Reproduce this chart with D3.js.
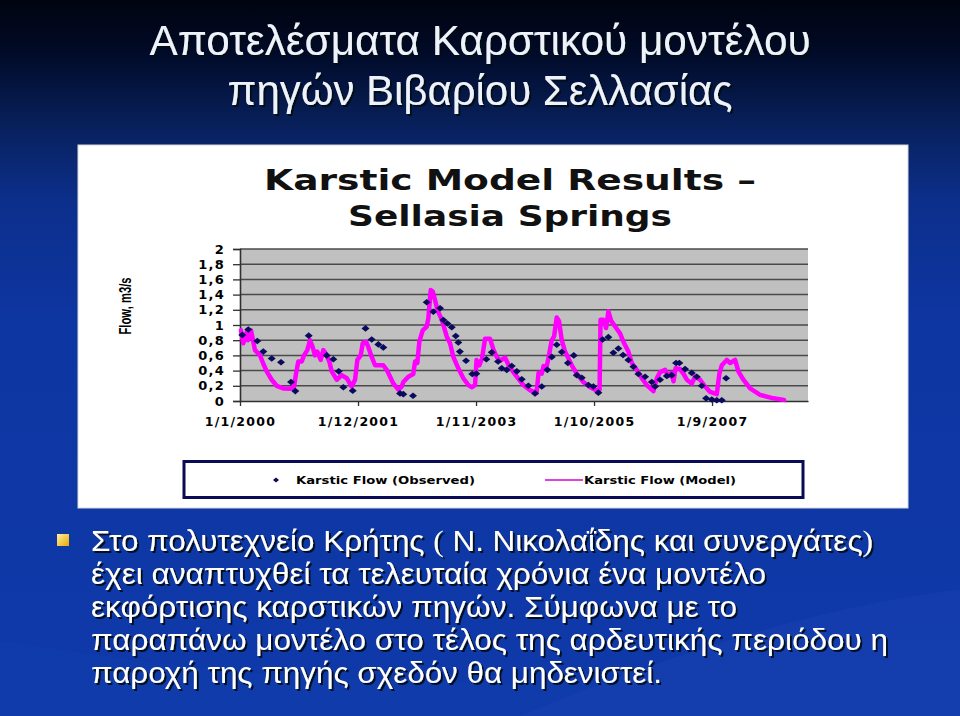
<!DOCTYPE html>
<html><head><meta charset="utf-8">
<script src="https://cdn.jsdelivr.net/npm/d3@7/dist/d3.min.js"></script>
<style>html,body{margin:0;padding:0;background:#0d2f95;overflow:hidden}svg{display:block}</style>
</head><body><svg id="c" width="960" height="716"></svg>
<script>
// ---------- data ----------
const slideTitle = ["Αποτελέσματα Καρστικού μοντέλου", "πηγών Βιβαρίου Σελλασίας"];
const chartTitle = ["Karstic Model Results –", "Sellasia Springs"];
const yTicks = [0, 0.2, 0.4, 0.6, 0.8, 1, 1.2, 1.4, 1.6, 1.8, 2];
const yTickLabels = ["0", "0,2", "0,4", "0,6", "0,8", "1", "1,2", "1,4", "1,6", "1,8", "2"];
// months since 1/1/2000
const xTickMonths = [0, 23, 46, 69, 92];
const xTickLabels = ["1/1/2000", "1/12/2001", "1/11/2003", "1/10/2005", "1/9/2007"];
const seriesNames = ["Karstic Flow (Observed)", "Karstic Flow (Model)"];
const observedMonths = [0.45,1.62,3.37,4.54,6.18,7.99,9.94,10.78,13.39,16.9,18.19,19.24,20.14,21.97,
  24.46,25.67,26.96,27.93,31.19,31.83,33.72,36.39,37.68,38.99,39.63,40.41,41.27,42.05,42.55,42.85,
  44.05,45.26,46.06,48.01,49.06,50.29,51.01,51.99,52.96,53.94,54.91,56.2,57.5,58.81,59.9,60.76,
  61.73,62.71,63.9,65.05,65.63,66.61,67.9,68.87,69.84,70.66,71.79,72.77,73.74,74.66,75.69,76.67,
  77.64,78.95,80.25,80.9,81.87,83.18,84.15,84.99,85.63,86.74,88.05,89.02,90,90.84,91.95,92.92,93.9,94.74];
const observedFlow = [0.87,0.94,0.79,0.65,0.56,0.51,0.25,0.13,0.86,0.60,0.55,0.39,0.18,0.135,
  0.955,0.81,0.745,0.705,0.10,0.09,0.07,1.30,1.175,1.22,1.065,1.02,0.97,0.855,0.77,0.65,
  0.53,0.355,0.36,0.55,0.64,0.52,0.43,0.41,0.46,0.39,0.285,0.20,0.10,0.19,0.41,0.58,
  0.74,0.645,0.50,0.60,0.34,0.305,0.21,0.19,0.11,0.81,0.84,0.635,0.69,0.605,0.54,0.45,
  0.355,0.32,0.25,0.19,0.28,0.33,0.34,0.50,0.50,0.42,0.37,0.32,0.20,0.035,0.02,0.01,0.01,0.30];
const modelMonths = [0.19,0.64,1.31,1.56,2.14,2.92,3.90,4.48,5.20,6.18,7.15,8.44,9.75,10.53,10.92,11.36,
  12.03,12.48,13.12,13.65,14.17,14.62,15.07,15.73,16.24,16.76,17.41,17.88,18.85,19.82,20.80,21.77,
  22.42,22.87,23.53,23.92,24.56,24.95,25.67,26.32,27.93,28.60,29.88,30.86,31.52,31.83,32.81,33.78,
  34.11,34.56,34.95,35.61,36.39,36.71,37.17,37.56,38.01,38.46,39.32,40.29,40.94,41.58,42.55,43.53,
  44.50,45.22,45.81,46.10,46.65,47.17,47.76,48.73,49.38,50.04,50.68,51.66,52.30,52.96,53.94,55.22,
  56.53,57.80,58.19,58.81,59.16,59.65,60.10,60.76,61.21,61.73,62.18,62.71,63.35,64.66,65.63,66.92,
  68.23,69.49,70.08,70.27,70.82,71.35,71.79,72.32,73.10,74.07,74.72,75.69,76.36,77.33,78.30,79.28,
  80.57,81.23,81.87,82.85,83.49,84.02,84.50,84.89,85.77,86.41,87.08,88.05,88.69,89.67,90.64,91.62,
  92.92,93.43,93.90,94.87,95.52,96.49,97.13,98.11,99.42,101.36,103.96,106.04];
const modelFlow = [0.93,0.76,0.91,0.80,0.93,0.67,0.60,0.50,0.39,0.28,0.20,0.165,0.16,0.19,0.36,0.52,
  0.52,0.60,0.67,0.80,0.71,0.60,0.65,0.54,0.67,0.62,0.52,0.39,0.28,0.34,0.30,0.19,
  0.28,0.54,0.60,0.76,0.78,0.72,0.58,0.47,0.47,0.41,0.23,0.15,0.19,0.25,0.32,0.355,
  0.52,0.50,0.78,0.93,0.98,1.09,1.46,1.44,1.33,1.20,1.07,0.85,0.76,0.58,0.43,0.30,
  0.21,0.18,0.21,0.54,0.47,0.56,0.82,0.82,0.68,0.58,0.53,0.57,0.48,0.41,0.32,0.21,
  0.14,0.11,0.37,0.36,0.46,0.42,0.56,0.80,0.85,1.10,1.05,0.80,0.65,0.47,0.36,0.25,
  0.18,0.14,0.15,1.07,1.07,0.96,1.18,1.06,0.98,0.89,0.78,0.65,0.50,0.41,0.30,0.21,
  0.13,0.30,0.38,0.41,0.33,0.37,0.26,0.43,0.42,0.36,0.28,0.23,0.32,0.28,0.19,0.12,
  0.09,0.36,0.47,0.54,0.50,0.54,0.39,0.28,0.165,0.08,0.035,0.015];
const bulletLines = [
  ["Στο πολυτεχνείο Κρήτης ", "(", " Ν. Νικολαΐδης και συνεργάτες", ")"],
  ["έχει αναπτυχθεί τα τελευταία χρόνια ένα μοντέλο"],
  ["εκφόρτισης καρστικών πηγών. Σύμφωνα με το"],
  ["παραπάνω μοντέλο στο τέλος της αρδευτικής περιόδου η"],
  ["παροχή της πηγής σχεδόν θα μηδενιστεί."]
];

// ---------- drawing ----------
const svg = d3.select("#c");
const defs = svg.append("defs");
const bg = defs.append("linearGradient").attr("id","bg").attr("x1",0).attr("y1",0).attr("x2",0).attr("y2",1);
[[0,"#000410"],[0.07,"#010a26"],[0.18,"#08215e"],[0.28,"#0c2f8c"],[0.45,"#0e36a2"],[1,"#0f39aa"]]
  .forEach(([o,c])=>bg.append("stop").attr("offset",o).attr("stop-color",c));
const yel = defs.append("linearGradient").attr("id","yel").attr("x1",0).attr("y1",0).attr("x2",1).attr("y2",1);
yel.append("stop").attr("offset",0).attr("stop-color","#fff0a0");
yel.append("stop").attr("offset",1).attr("stop-color","#e8a800");
const sh = defs.append("filter").attr("id","sh").attr("x","-5%").attr("y","-30%").attr("width","110%").attr("height","160%");
sh.append("feDropShadow").attr("dx",2).attr("dy",2).attr("stdDeviation",0.6).attr("flood-color","#000818").attr("flood-opacity",0.95);

svg.append("rect").attr("width",960).attr("height",716).attr("fill","url(#bg)");
// subtle swoosh
svg.append("path").attr("d","M520,716 C700,640 860,600 960,590 L960,716 Z").attr("fill","#2a52c0").attr("opacity",0.18);
svg.append("path").attr("d","M0,640 C300,690 600,700 960,650 L960,716 L0,716 Z").attr("fill","#1c46b8").attr("opacity",0.12);

// slide title
const titleW = [661, 505], titleY = [55, 105];
slideTitle.forEach((t,i)=>{
  svg.append("text").attr("x",480).attr("y",titleY[i]).attr("text-anchor","middle")
    .attr("font-family","'Liberation Sans Narrow','Liberation Sans',Arial,sans-serif").attr("font-size",43)
    .attr("textLength",titleW[i]).attr("lengthAdjust","spacingAndGlyphs")
    .attr("fill","#eef2fa").attr("filter","url(#sh)").text(t);
});

// chart panel
svg.append("rect").attr("x",78).attr("y",145).attr("width",830).attr("height",363).attr("fill","#ffffff")
  .attr("stroke","#d8d8d8").attr("stroke-width",1);

const ctW = [492, 324], ctY = [190, 226];
chartTitle.forEach((t,i)=>{
  svg.append("text").attr("x",510).attr("y",ctY[i]).attr("text-anchor","middle")
    .attr("font-family","'Comic Sans MS','DejaVu Sans',sans-serif").attr("font-weight","bold").attr("font-size",28)
    .attr("textLength",ctW[i]).attr("lengthAdjust","spacingAndGlyphs").attr("fill","#111").text(t);
});

const x = d3.scaleLinear().domain([0,110.7]).range([240,808]);
const y = d3.scaleLinear().domain([0,2]).range([401,249]);

svg.append("rect").attr("x",x(0)).attr("y",y(2)).attr("width",x(110.7)-x(0)).attr("height",y(0)-y(2)).attr("fill","#c0c0c0");

// gridlines
svg.append("g").selectAll("line").data(yTicks.filter(d=>d>0)).join("line")
  .attr("x1",x(0)).attr("x2",x(110.7)).attr("y1",d=>y(d)).attr("y2",d=>y(d))
  .attr("stroke","#4a4a4a").attr("stroke-width",1.5);

// y axis
const yAxis = d3.axisLeft(y).tickValues(yTicks).tickFormat((d,i)=>yTickLabels[i]).tickSize(7).tickPadding(8);
const gy = svg.append("g").attr("transform",`translate(${x(0)},0)`).call(yAxis);
gy.select(".domain").attr("stroke","#303030").attr("stroke-width",1.6);
gy.selectAll(".tick line").attr("stroke","#303030").attr("stroke-width",1.3);
gy.selectAll(".tick text").attr("font-family","'DejaVu Sans',Verdana,sans-serif").attr("font-weight","bold")
  .attr("font-size",13).attr("letter-spacing",1.2).attr("fill","#000");

// x axis
const xAxis = d3.axisBottom(x).tickValues(xTickMonths).tickFormat((d,i)=>xTickLabels[i]).tickSize(5).tickPadding(11).tickSizeOuter(0);
const gx = svg.append("g").attr("transform",`translate(0,${y(0)})`).call(xAxis);
gx.select(".domain").attr("stroke","#303030").attr("stroke-width",1.6);
gx.selectAll(".tick line").attr("stroke","#303030").attr("stroke-width",1.3);
gx.selectAll(".tick text").attr("font-family","'DejaVu Sans',Verdana,sans-serif").attr("font-weight","bold")
  .attr("font-size",12.5).attr("letter-spacing",1.3).attr("fill","#000");

// y label
svg.append("text").attr("transform","translate(131,306) rotate(-90)").attr("text-anchor","middle")
  .attr("font-family","'Liberation Sans',Arial,sans-serif").attr("font-weight","bold").attr("font-size",17)
  .attr("textLength",57).attr("lengthAdjust","spacingAndGlyphs").attr("fill","#000").text("Flow, m3/s");

// model line
const modelData = modelMonths.map((m,i)=>[m, modelFlow[i]]);
svg.append("path").datum(modelData)
  .attr("d", d3.line().x(d=>x(d[0])).y(d=>y(d[1])))
  .attr("fill","none").attr("stroke","#ff00ff").attr("stroke-width",4.5).attr("stroke-linejoin","round").attr("stroke-linecap","round");

// observed markers
const diamond = {draw(ctx){ctx.moveTo(0,-3.3);ctx.lineTo(4,0);ctx.lineTo(0,3.3);ctx.lineTo(-4,0);ctx.closePath();}};
const obsData = observedMonths.map((m,i)=>[m, observedFlow[i]]);
svg.append("g").selectAll("path").data(obsData).join("path")
  .attr("transform",d=>`translate(${x(d[0])},${y(d[1])})`)
  .attr("d", d3.symbol().type(diamond)).attr("fill","#0b0b5e");

// legend
svg.append("rect").attr("x",184).attr("y",461.5).attr("width",619).attr("height",36)
  .attr("fill","#fff").attr("stroke","#0b0b55").attr("stroke-width",3);
svg.append("path").attr("transform","translate(276,480)").attr("d", d3.symbol().type({draw(ctx){ctx.moveTo(0,-2.5);ctx.lineTo(3,0);ctx.lineTo(0,2.5);ctx.lineTo(-3,0);ctx.closePath();}})).attr("fill","#0b0b5e");
svg.append("text").attr("x",296).attr("y",484).attr("font-family","'Comic Sans MS','DejaVu Sans',sans-serif")
  .attr("font-weight","bold").attr("font-size",11).attr("textLength",179).attr("lengthAdjust","spacingAndGlyphs").text(seriesNames[0]);
svg.append("line").attr("x1",545).attr("x2",583).attr("y1",480).attr("y2",480).attr("stroke","#e040e0").attr("stroke-width",1.8);
svg.append("text").attr("x",584).attr("y",484).attr("font-family","'Comic Sans MS','DejaVu Sans',sans-serif")
  .attr("font-weight","bold").attr("font-size",11).attr("textLength",152).attr("lengthAdjust","spacingAndGlyphs").text(seriesNames[1]);

// bullet
svg.append("rect").attr("x",57).attr("y",534).attr("width",12).attr("height",12).attr("fill","url(#yel)");
const lineW = [782, 675, 646, 797, 571];
bulletLines.forEach((parts,i)=>{
  const t = svg.append("text").attr("x",91).attr("y",551+i*33)
    .attr("font-family","'Liberation Sans Narrow','Liberation Sans',Arial,sans-serif").attr("font-size",30)
    .attr("textLength",lineW[i]).attr("lengthAdjust","spacingAndGlyphs")
    .attr("fill","#ffffff").attr("filter","url(#sh)");
  parts.forEach(p=>{
    const ts = t.append("tspan").text(p);
    if (p==="(" || p===")") ts.attr("font-family","'Liberation Serif','Times New Roman',serif");
  });
});
</script></body></html>
